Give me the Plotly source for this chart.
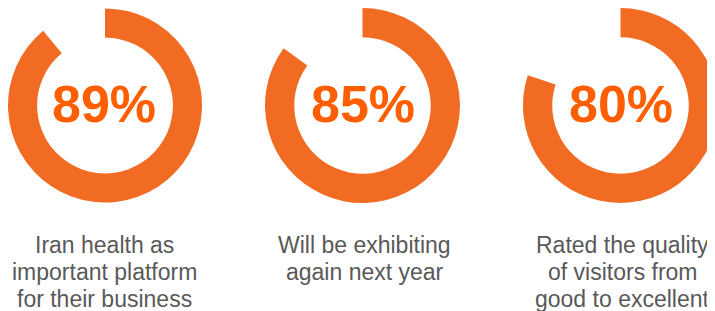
import plotly.graph_objects as go

W, H = 715, 311
OFF = 8  # page body margin offset (px)

# ---- data ----
percents = [89, 85, 80]
captions = [
    ["Iran health as", "important platform", "for their business"],
    ["Will be exhibiting", "again next year"],
    ["Rated the quality", "of visitors from", "good to excellent"],
]

# ---- layout / style (positions in screen px) ----
ring_color = "#F26B22"
pct_color = "#FF5F00"
cap_color = "#595959"
centers_x = [104.5, 362.5, 620.5]
center_y = 105.5
radius = 97.5
pct_y = 104
cap_centers_x = [104.5, 364.5, 622.5]
cap_line_y = [245, 272, 299]

def px_x(x):
    return (x - OFF) / W

def px_y(y):
    return 1 - (y - OFF) / H

fig = go.Figure()

for i, p in enumerate(percents):
    cx = centers_x[i]
    x0 = max(0.0, px_x(cx - radius))
    x1 = min(1.0, px_x(cx + radius))
    y0 = max(0.0, px_y(center_y + radius))
    y1 = min(1.0, px_y(center_y - radius))
    fig.add_trace(go.Pie(
        values=[p, 100 - p],
        labels=["yes", "rest"],
        hole=0.70,
        sort=False,
        direction="clockwise",
        rotation=0,
        marker=dict(colors=[ring_color, "rgba(0,0,0,0)"], line=dict(width=0)),
        textinfo="none",
        hoverinfo="skip",
        showlegend=False,
        domain=dict(x=[x0, x1], y=[y0, y1]),
    ))
    fig.add_annotation(
        x=px_x(cx), y=px_y(pct_y), xref="paper", yref="paper",
        text=f"{p}%", showarrow=False, xanchor="center", yanchor="middle",
        font=dict(family="Liberation Sans, Arial", size=52, color=pct_color, weight="bold"),
    )
    for j, line in enumerate(captions[i]):
        fig.add_annotation(
            x=px_x(cap_centers_x[i]), y=px_y(cap_line_y[j]), xref="paper", yref="paper",
            text=line, showarrow=False, xanchor="center", yanchor="middle",
            font=dict(family="Liberation Sans, Arial", size=23, color=cap_color),
        )

fig.update_layout(
    width=W, height=H,
    margin=dict(l=0, r=0, t=0, b=0),
    paper_bgcolor="white", plot_bgcolor="white",
    showlegend=False,
)

fig.write_html("out.html")
